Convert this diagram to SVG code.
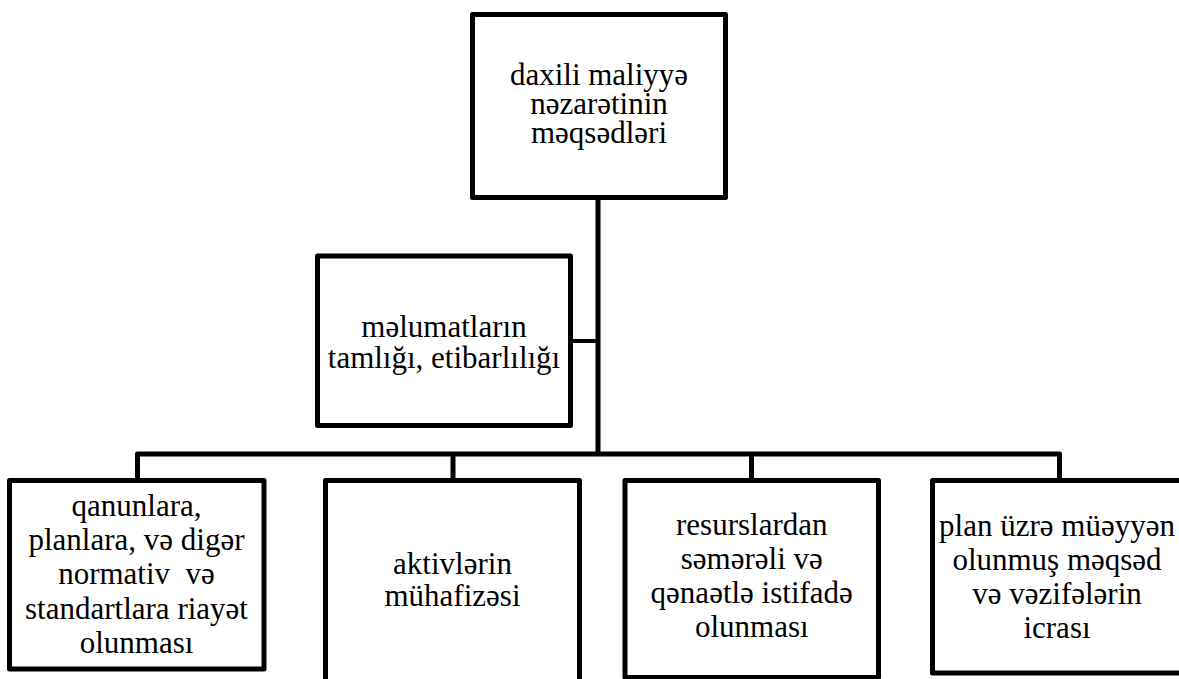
<svg xmlns="http://www.w3.org/2000/svg" width="1179" height="679" viewBox="0 0 1179 679">
  <style>
    .box { fill: #ffffff; stroke: #000000; stroke-width: 5; stroke-linejoin: round; }
    .wire { fill: none; stroke: #000000; stroke-width: 5; stroke-linejoin: round; stroke-linecap: butt; }
    .thin { stroke-width: 4; }
    text { font-size: 31px; fill: #000000; text-anchor: middle; }
    .gap { white-space: pre; }
    .f5 text { font: 31px 'Liberation Serif', serif; }
  </style>
  <rect width="1179" height="679" fill="#ffffff"/>

  <!-- tree connectors: trunk, side branch and bus to the four goals -->
  <g id="connectors">
    <path class="wire" d="M598 197.5 V454"/>
    <path class="wire thin" d="M570.5 341 H598"/>
    <path class="wire" d="M137.5 480.5 V454 H1059.5 V480.5"/>
    <path class="wire" d="M453 454 V480.5"/>
    <path class="wire" d="M751.5 454 V480.5"/>
  </g>

  <g id="node-goals" class="f5">
    <rect class="box" x="472.5" y="14.5" width="253" height="183"/>
    <text x="599" y="85">daxili maliyyə</text>
    <text x="599" y="114">nəzarətinin</text>
    <text x="599" y="143">məqsədləri</text>
  </g>

  <g id="node-information" class="f5">
    <rect class="box" x="317.5" y="256" width="253" height="169.5"/>
    <text x="444" y="337">məlumatların</text>
    <text x="444" y="368">tamlığı, etibarlılığı</text>
  </g>

  <g id="node-compliance" class="f5">
    <rect class="box" x="9.5" y="480.5" width="254.5" height="188.5"/>
    <text x="136.5" y="516">qanunlara,</text>
    <text x="136.5" y="550">planlara, və digər</text>
    <text class="gap" x="136.5" y="584">normativ  və</text>
    <text x="136.5" y="619">standartlara riayət</text>
    <text x="136.5" y="653">olunması</text>
  </g>

  <g id="node-assets" class="f5">
    <rect class="box" x="325.5" y="480.5" width="254" height="215"/>
    <text x="452.5" y="574">aktivlərin</text>
    <text x="452.5" y="606">mühafizəsi</text>
  </g>

  <g id="node-resources" class="f5">
    <rect class="box" x="625" y="480.5" width="253.5" height="197"/>
    <text x="751.75" y="535">resurslardan</text>
    <text x="751.75" y="569">səmərəli və</text>
    <text x="751.75" y="603">qənaətlə istifadə</text>
    <text x="751.75" y="637">olunması</text>
  </g>

  <g id="node-plan" class="f5">
    <rect class="box" x="932.5" y="480.5" width="254" height="192.5"/>
    <text x="1057" y="536">plan üzrə müəyyən</text>
    <text x="1057" y="570">olunmuş məqsəd</text>
    <text x="1057" y="604">və vəzifələrin</text>
    <text x="1057" y="638">icrası</text>
  </g>
</svg>
